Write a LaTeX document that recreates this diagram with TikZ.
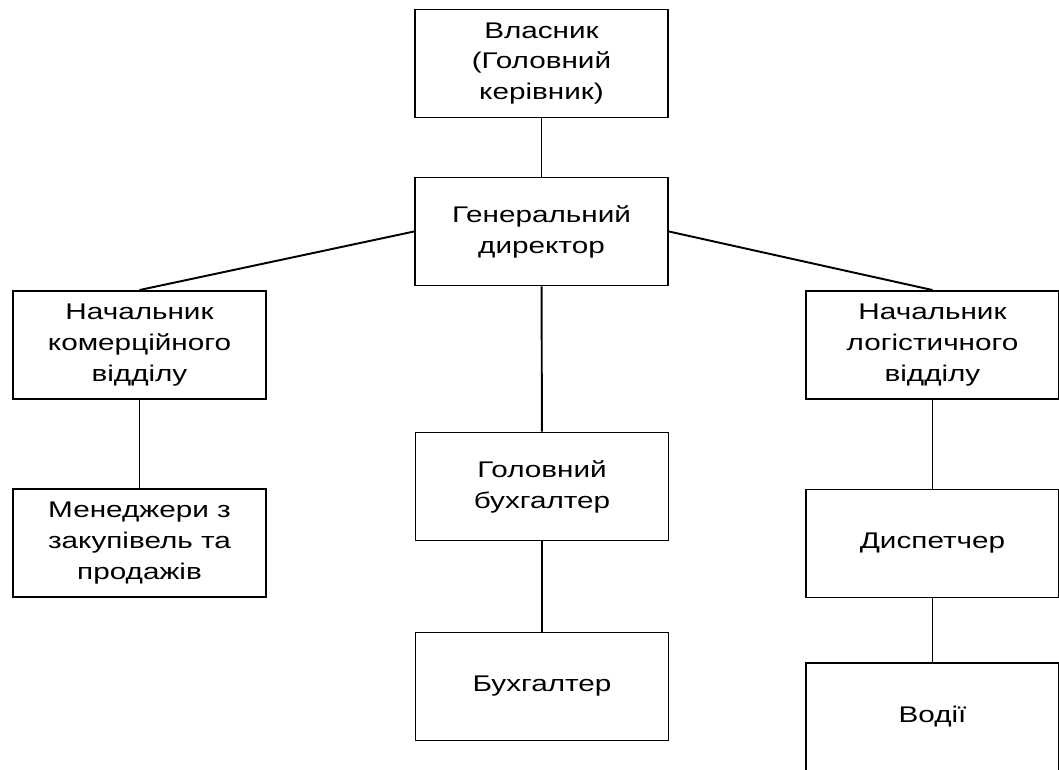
\documentclass[tikz,border=0pt]{standalone}
\usepackage{fontspec}
\setmainfont{Liberation Sans}[FakeStretch=1.31]
\usepackage{tikz}
\tikzset{
  unit/.style={draw, line width=1.1pt, minimum width=5.06cm, minimum height=2.16cm, align=center, inner sep=0pt, font=\fontsize{12.9}{17.6}\selectfont},
  link/.style={line width=1.1pt},
}

\begin{document}
\begin{tikzpicture}
\useasboundingbox (0,0) rectangle (21.180,-15.380);
\node[unit] (owner)  at (10.830,-1.270)  {Власник\\(Головний\\керівник)};
\node[unit] (gendir) at (10.830,-4.630)  {Генеральний\\директор};
\node[unit] (comm)   at (2.790,-6.900)   {Начальник\\комерційного\\відділу};
\node[unit] (mgr)    at (2.790,-10.860)  {Менеджери з\\закупівель та\\продажів};
\node[unit] (chacc)  at (10.840,-9.730)  {Головний\\бухгалтер};
\node[unit] (acc)    at (10.840,-13.730) {Бухгалтер};
\node[unit] (logi)   at (18.650,-6.900)  {Начальник\\логістичного\\відділу};
\node[unit] (disp)   at (18.650,-10.870) {Диспетчер};
\node[unit] (drv)    at (18.650,-14.340) {Водії};
\draw[link] (owner) -- (gendir);
\draw[link] (gendir.west) -- (comm.north);
\draw[link] (gendir.east) -- (logi.north);
\draw[link] (gendir) -- (chacc);
\draw[link] (chacc) -- (acc);
\draw[link] (comm) -- (mgr);
\draw[link] (logi) -- (disp);
\draw[link] (disp) -- (drv);
\end{tikzpicture}
\end{document}
